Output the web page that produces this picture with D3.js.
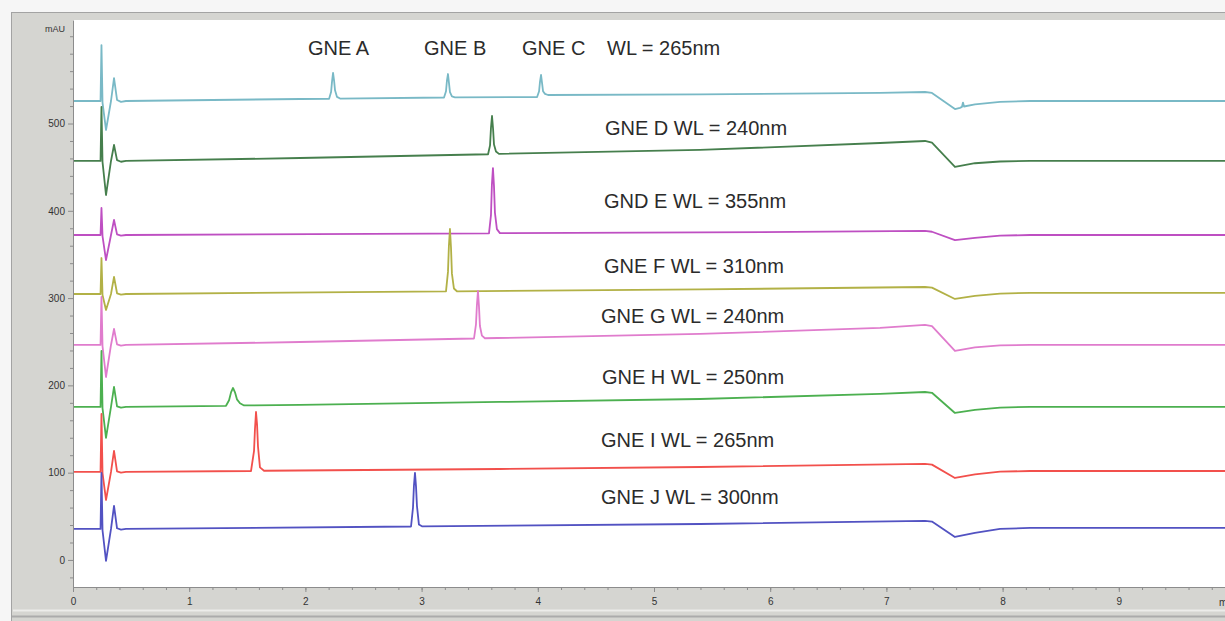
<!DOCTYPE html>
<html>
<head>
<meta charset="utf-8">
<script src="https://cdn.jsdelivr.net/npm/d3@7"></script>
<style>
body { margin: 0; background: #fff; }
svg { display: block; font-family: "Liberation Sans", Arial, sans-serif; }
</style>
</head>
<body>
<svg id="chart" width="1225" height="621"></svg>
<script>
// retention time (min), absorbance (mAU)
var gneABC = [[0, 525.8], [0.237, 525.8], [0.245, 589.9], [0.254, 524], [0.284, 492.6], [0.327, 525.8], [0.353, 552.1],
  [0.379, 527], [0.413, 524.8], [0.456, 525.8], [1.954, 528.1],
  [2.204, 528.4], [2.221, 536], [2.229, 548], [2.238, 557.9], [2.247, 549], [2.255, 538], [2.272, 530.5], [2.298, 528.6],
  [3.193, 529.8], [3.210, 537], [3.218, 549], [3.227, 556.7], [3.236, 546], [3.244, 536], [3.261, 531], [3.287, 530],
  [3.994, 530.4], [4.011, 537], [4.019, 548], [4.028, 555.6], [4.037, 546], [4.045, 537], [4.062, 534], [4.088, 532.7],
  [5.396, 533.5], [6.945, 535.0], [7.332, 536.1], [7.392, 535], [7.59, 516.6], [7.633, 518], [7.650, 519], [7.659, 524],
  [7.668, 519.5], [7.762, 522], [7.978, 524.8], [8.236, 525.8], [10, 525.8]];

var gneD = [[0, 457.1], [0.237, 457.1], [0.245, 518.9], [0.254, 456], [0.284, 418.1], [0.327, 457.1], [0.353, 475.4],
  [0.379, 458], [0.413, 456.2], [0.456, 457.1], [1.954, 460.5],
  [3.572, 464.8], [3.589, 475], [3.597, 495], [3.606, 508.6], [3.615, 494], [3.623, 476], [3.640, 468], [3.666, 465.2],
  [5.396, 469.7], [6.945, 477.7], [7.332, 480.0], [7.392, 478], [7.59, 450.2], [7.762, 454.5], [7.978, 456.5],
  [8.236, 457.1], [10, 457.1]];

var gndE = [[0, 372.3], [0.237, 372.3], [0.245, 403.2], [0.254, 371], [0.284, 343.6], [0.327, 372.3], [0.353, 389.5],
  [0.379, 373], [0.413, 371.6], [0.456, 372.3],
  [3.580, 374.1], [3.597, 395], [3.605, 430], [3.614, 449.0], [3.623, 428], [3.631, 398], [3.648, 379], [3.674, 374.4],
  [5.396, 375.2], [7.332, 376.9], [7.392, 376], [7.59, 366.5], [7.762, 369], [7.978, 371.5], [8.236, 372.3], [10, 372.3]];

var gneF = [[0, 304.7], [0.237, 304.7], [0.245, 345.9], [0.254, 303.5], [0.284, 286.4], [0.327, 304.7], [0.353, 324.2],
  [0.379, 305.5], [0.413, 304], [0.456, 304.7],
  [3.210, 307.6], [3.227, 330], [3.235, 360], [3.244, 379.2], [3.253, 358], [3.261, 328], [3.278, 311], [3.304, 307.8],
  [5.396, 309.9], [7.332, 312.7], [7.392, 312], [7.59, 299.0], [7.762, 302.5], [7.978, 305.2], [8.236, 305.9], [10, 305.9]];

var gneG = [[0, 246.3], [0.237, 246.3], [0.245, 301.3], [0.254, 245], [0.284, 209.6], [0.327, 246.3], [0.353, 264.6],
  [0.379, 247], [0.413, 245.6], [0.456, 246.3], [1.954, 249.7],
  [3.451, 253.7], [3.468, 270], [3.476, 292], [3.485, 308.1], [3.494, 290], [3.502, 268], [3.519, 257], [3.545, 254],
  [5.396, 258.9], [6.945, 265.8], [7.332, 269.2], [7.392, 268], [7.59, 239.4], [7.762, 243.5], [7.978, 245.8],
  [8.236, 246.3], [10, 246.3]];

var gneH = [[0, 175.3], [0.237, 175.3], [0.245, 239.4], [0.254, 174], [0.284, 139.8], [0.327, 175.3], [0.353, 198.2],
  [0.379, 176], [0.413, 174.6], [0.456, 175.3],
  [1.317, 176.6], [1.343, 183], [1.360, 192], [1.377, 197.0], [1.394, 192], [1.411, 184], [1.437, 179.5], [1.472, 177],
  [1.954, 177.6], [3.675, 181.0], [5.396, 184.4], [6.945, 190.2], [7.332, 192.4], [7.392, 191.5], [7.59, 168.4],
  [7.762, 172], [7.978, 174.6], [8.236, 175.3], [10, 175.3]];

var gneI = [[0, 100.8], [0.237, 100.8], [0.245, 167.2], [0.254, 99.5], [0.284, 68.7], [0.327, 100.8], [0.353, 124.9],
  [0.379, 101.5], [0.413, 100.1], [0.456, 100.8],
  [1.532, 101.9], [1.558, 125], [1.566, 150], [1.575, 169.5], [1.584, 155], [1.592, 130], [1.609, 106], [1.644, 102.2],
  [3.675, 104.2], [5.396, 106.5], [7.332, 110.0], [7.392, 109.2], [7.59, 93.9], [7.762, 98], [7.978, 101.2],
  [8.236, 101.9], [10, 101.9]];

var gneJ = [[0, 35.5], [0.237, 35.5], [0.245, 99.7], [0.254, 34], [0.284, -1.1], [0.327, 35.5], [0.353, 61.9],
  [0.379, 36.3], [0.413, 34.8], [0.456, 35.5],
  [2.909, 38.3], [2.926, 60], [2.934, 85], [2.943, 99.7], [2.952, 84], [2.960, 62], [2.977, 40.5], [3.003, 38.5],
  [5.396, 41.2], [7.332, 44.7], [7.392, 44], [7.59, 26.3], [7.762, 31], [7.978, 35.5], [8.236, 36.7], [10, 36.7]];

var series = [gneABC, gneD, gndE, gneF, gneG, gneH, gneI, gneJ];

var xTicks = [0, 1, 2, 3, 4, 5, 6, 7, 8, 9];
var yTicks = [0, 100, 200, 300, 400, 500];

var labels = ["GNE A", "GNE B", "GNE C", "WL = 265nm", "GNE D WL = 240nm", "GND E WL = 355nm",
  "GNE F WL = 310nm", "GNE G WL = 240nm", "GNE H WL = 250nm", "GNE I WL = 265nm", "GNE J WL = 300nm"];
var labelTime = [2.022, 3.021, 3.864, 4.596, 4.578, 4.570, 4.570, 4.544, 4.552, 4.544, 4.544];
var labelMAU = [578.5, 578.5, 578.5, 578.5, 486.8, 403.2, 328.8, 271.5, 201.6, 129.4, 64.1];

// styles
var colors = ["#79b9c6", "#467f4d", "#be4fc2", "#b2b146", "#e07ccd", "#4cb050", "#f2504c", "#5252c2"];

var svg = d3.select("#chart"),
    W = +svg.attr("width"),
    H = +svg.attr("height"),
    plotLeft = 73, plotTop = 20, plotBottom = 587;

var x = d3.scaleLinear().domain([0, 10]).range([plotLeft, plotLeft + 1162]);
var y = d3.scaleLinear().domain([-31, 618.6]).range([plotBottom, plotTop]);

// window frame
svg.append("rect").attr("width", W).attr("height", H).attr("fill", "#f6f6f6");
svg.append("rect").attr("x", 11.5).attr("y", 12.5).attr("width", W).attr("height", H)
    .attr("fill", "#d5d5d1").attr("stroke", "#a3a3a3");
svg.append("line").attr("x1", 13).attr("x2", W).attr("y1", 610.5).attr("y2", 610.5)
    .attr("stroke", "#ececea").attr("stroke-width", 2);
svg.append("line").attr("x1", 12).attr("x2", W).attr("y1", 616.5).attr("y2", 616.5)
    .attr("stroke", "#ababab").attr("stroke-width", 2);
svg.append("rect").attr("x", plotLeft).attr("y", plotTop)
    .attr("width", W - plotLeft).attr("height", plotBottom - plotTop)
    .attr("fill", "#fff");

svg.append("clipPath").attr("id", "plotclip")
  .append("rect").attr("x", plotLeft).attr("y", plotTop)
    .attr("width", W - plotLeft).attr("height", plotBottom - plotTop);

var line = d3.line()
    .x(function(d) { return x(d[0]); })
    .y(function(d) { return y(d[1]); });

svg.append("g")
    .attr("clip-path", "url(#plotclip)")
  .selectAll("path")
  .data(series)
  .enter().append("path")
    .attr("d", line)
    .attr("fill", "none")
    .attr("stroke", function(d, i) { return colors[i]; })
    .attr("stroke-width", 1.8)
    .attr("stroke-linejoin", "round");

// axes
var xMinor = d3.range(0, 10.01, 0.2);
var yMinor = d3.range(-20, 601, 20).filter(function(v) { return yTicks.indexOf(v) < 0; });

svg.append("g")
    .attr("transform", "translate(0," + plotBottom + ")")
    .call(d3.axisBottom(x).tickValues(xMinor).tickSize(3).tickFormat(""))
    .call(function(g) { g.select(".domain").remove(); })
    .selectAll("line").attr("stroke", "#8c8c8c");

var xAxis = svg.append("g")
    .attr("transform", "translate(0," + plotBottom + ")")
    .call(d3.axisBottom(x).tickValues(xTicks).tickSize(5).tickSizeOuter(0).tickFormat(d3.format("d")));
xAxis.select(".domain").attr("stroke", "#8c8c8c");
xAxis.selectAll("line").attr("stroke", "#8c8c8c");
xAxis.selectAll("text").attr("y", 11).attr("fill", "#333").attr("font-size", 10)
    .attr("font-family", "Liberation Sans, Arial, sans-serif");

svg.append("g")
    .attr("transform", "translate(" + plotLeft + ",0)")
    .call(d3.axisLeft(y).tickValues(yMinor).tickSize(3).tickFormat(""))
    .call(function(g) { g.select(".domain").remove(); })
    .selectAll("line").attr("stroke", "#8c8c8c");

var yAxis = svg.append("g")
    .attr("transform", "translate(" + plotLeft + ",0)")
    .call(d3.axisLeft(y).tickValues(yTicks).tickSize(5).tickSizeOuter(0));
yAxis.select(".domain").attr("stroke", "#8c8c8c");
yAxis.selectAll("line").attr("stroke", "#8c8c8c");
yAxis.selectAll("text").attr("fill", "#333").attr("font-size", 10)
    .attr("font-family", "Liberation Sans, Arial, sans-serif");

svg.append("text")
    .attr("x", plotLeft - 8).attr("y", 32)
    .attr("text-anchor", "end")
    .attr("font-size", 9).attr("fill", "#333")
    .text("mAU");

svg.append("text")
    .attr("x", 1219).attr("y", 606)
    .attr("font-size", 10).attr("fill", "#333")
    .text("min");

// peak annotations
svg.append("g")
  .selectAll("text")
  .data(labels)
  .enter().append("text")
    .attr("x", function(d, i) { return x(labelTime[i]); })
    .attr("y", function(d, i) { return y(labelMAU[i]); })
    .attr("font-size", 20)
    .attr("fill", "#2b2b2b")
    .text(function(d) { return d; });
</script>
</body>
</html>
